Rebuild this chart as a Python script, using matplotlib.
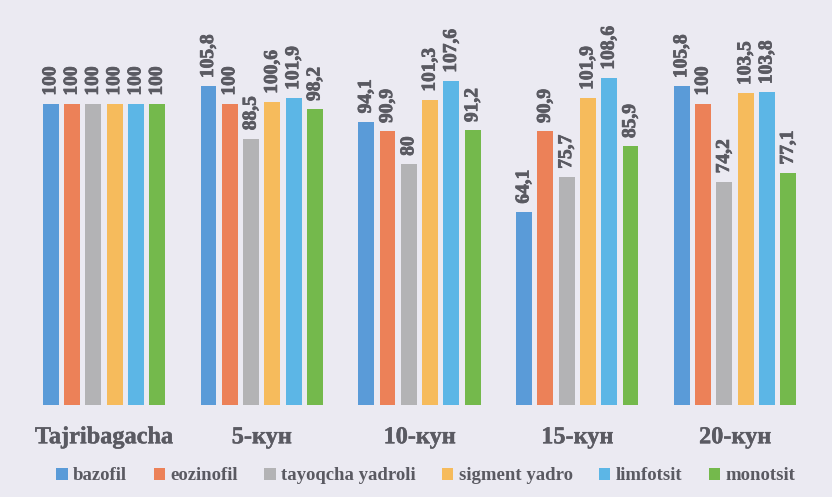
import matplotlib
matplotlib.use("Agg")
import matplotlib.pyplot as plt
import matplotlib.patheffects as pe
import numpy as np

categories = ["Tajribagacha", "5-кун", "10-кун", "15-кун", "20-кун"]
series_names = ["bazofil", "eozinofil", "tayoqcha yadroli", "sigment yadro", "limfotsit", "monotsit"]
bazofil = [100, 105.8, 94.1, 64.1, 105.8]
eozinofil = [100, 100, 90.9, 90.9, 100]
tayoqcha = [100, 88.5, 80, 75.7, 74.2]
sigment = [100, 100.6, 101.3, 101.9, 103.5]
limfotsit = [100, 101.9, 107.6, 108.6, 103.8]
monotsit = [100, 98.2, 91.2, 85.9, 77.1]
series = [bazofil, eozinofil, tayoqcha, sigment, limfotsit, monotsit]
colors = ["#5a9bd8", "#ec8158", "#b3b3b5", "#f6bb5c", "#5cb6e6", "#74b94c"]

bg = "#ebeaf2"
txt = "#5a5a62"
fig = plt.figure(figsize=(8.32, 4.97), dpi=100, facecolor=bg)
ax = fig.add_axes([0, 0.185, 1, 0.815], facecolor=bg)

x = np.arange(len(categories))
width = 0.101
step = 0.135
font = ["Liberation Serif", "DejaVu Serif"]
stroke = [pe.withStroke(linewidth=0.6, foreground=txt)]
for i, (vals, col, name) in enumerate(zip(series, colors, series_names)):
    pos = x + (i - 2.5) * step
    ax.bar(pos, vals, width=width, color=col, label=name)
    for xp, v in zip(pos, vals):
        lab = ("%g" % v).replace(".", ",")
        ax.annotate(lab, (xp, v), xytext=(0, 6), textcoords="offset points",
                    rotation=90, ha="center", va="bottom", fontsize=14,
                    fontweight="bold", color=txt, family=font, path_effects=stroke)

ax.set_xlim(-0.659, 4.615)
ax.set_ylim(0, 134.5)
ax.set_xticks(x)
ax.set_xticklabels(categories, fontsize=17.5, fontweight="bold", color=txt, family=font)
for t in ax.get_xticklabels():
    t.set_path_effects([pe.withStroke(linewidth=0.3, foreground=txt)])
ax.tick_params(axis="x", length=0, pad=16)
ax.set_yticks([])
for s in ax.spines.values():
    s.set_visible(False)

leg = fig.legend(loc="center", bbox_to_anchor=(0.512, 1 - 476 / 497), ncol=6, frameon=False,
                 prop={"family": font, "weight": "bold", "size": 13.5},
                 handlelength=0.6, handleheight=0.6, handletextpad=0.3, columnspacing=1.4)
for t in leg.get_texts():
    t.set_color(txt)

fig.savefig("out.png", dpi=100, facecolor=bg)
